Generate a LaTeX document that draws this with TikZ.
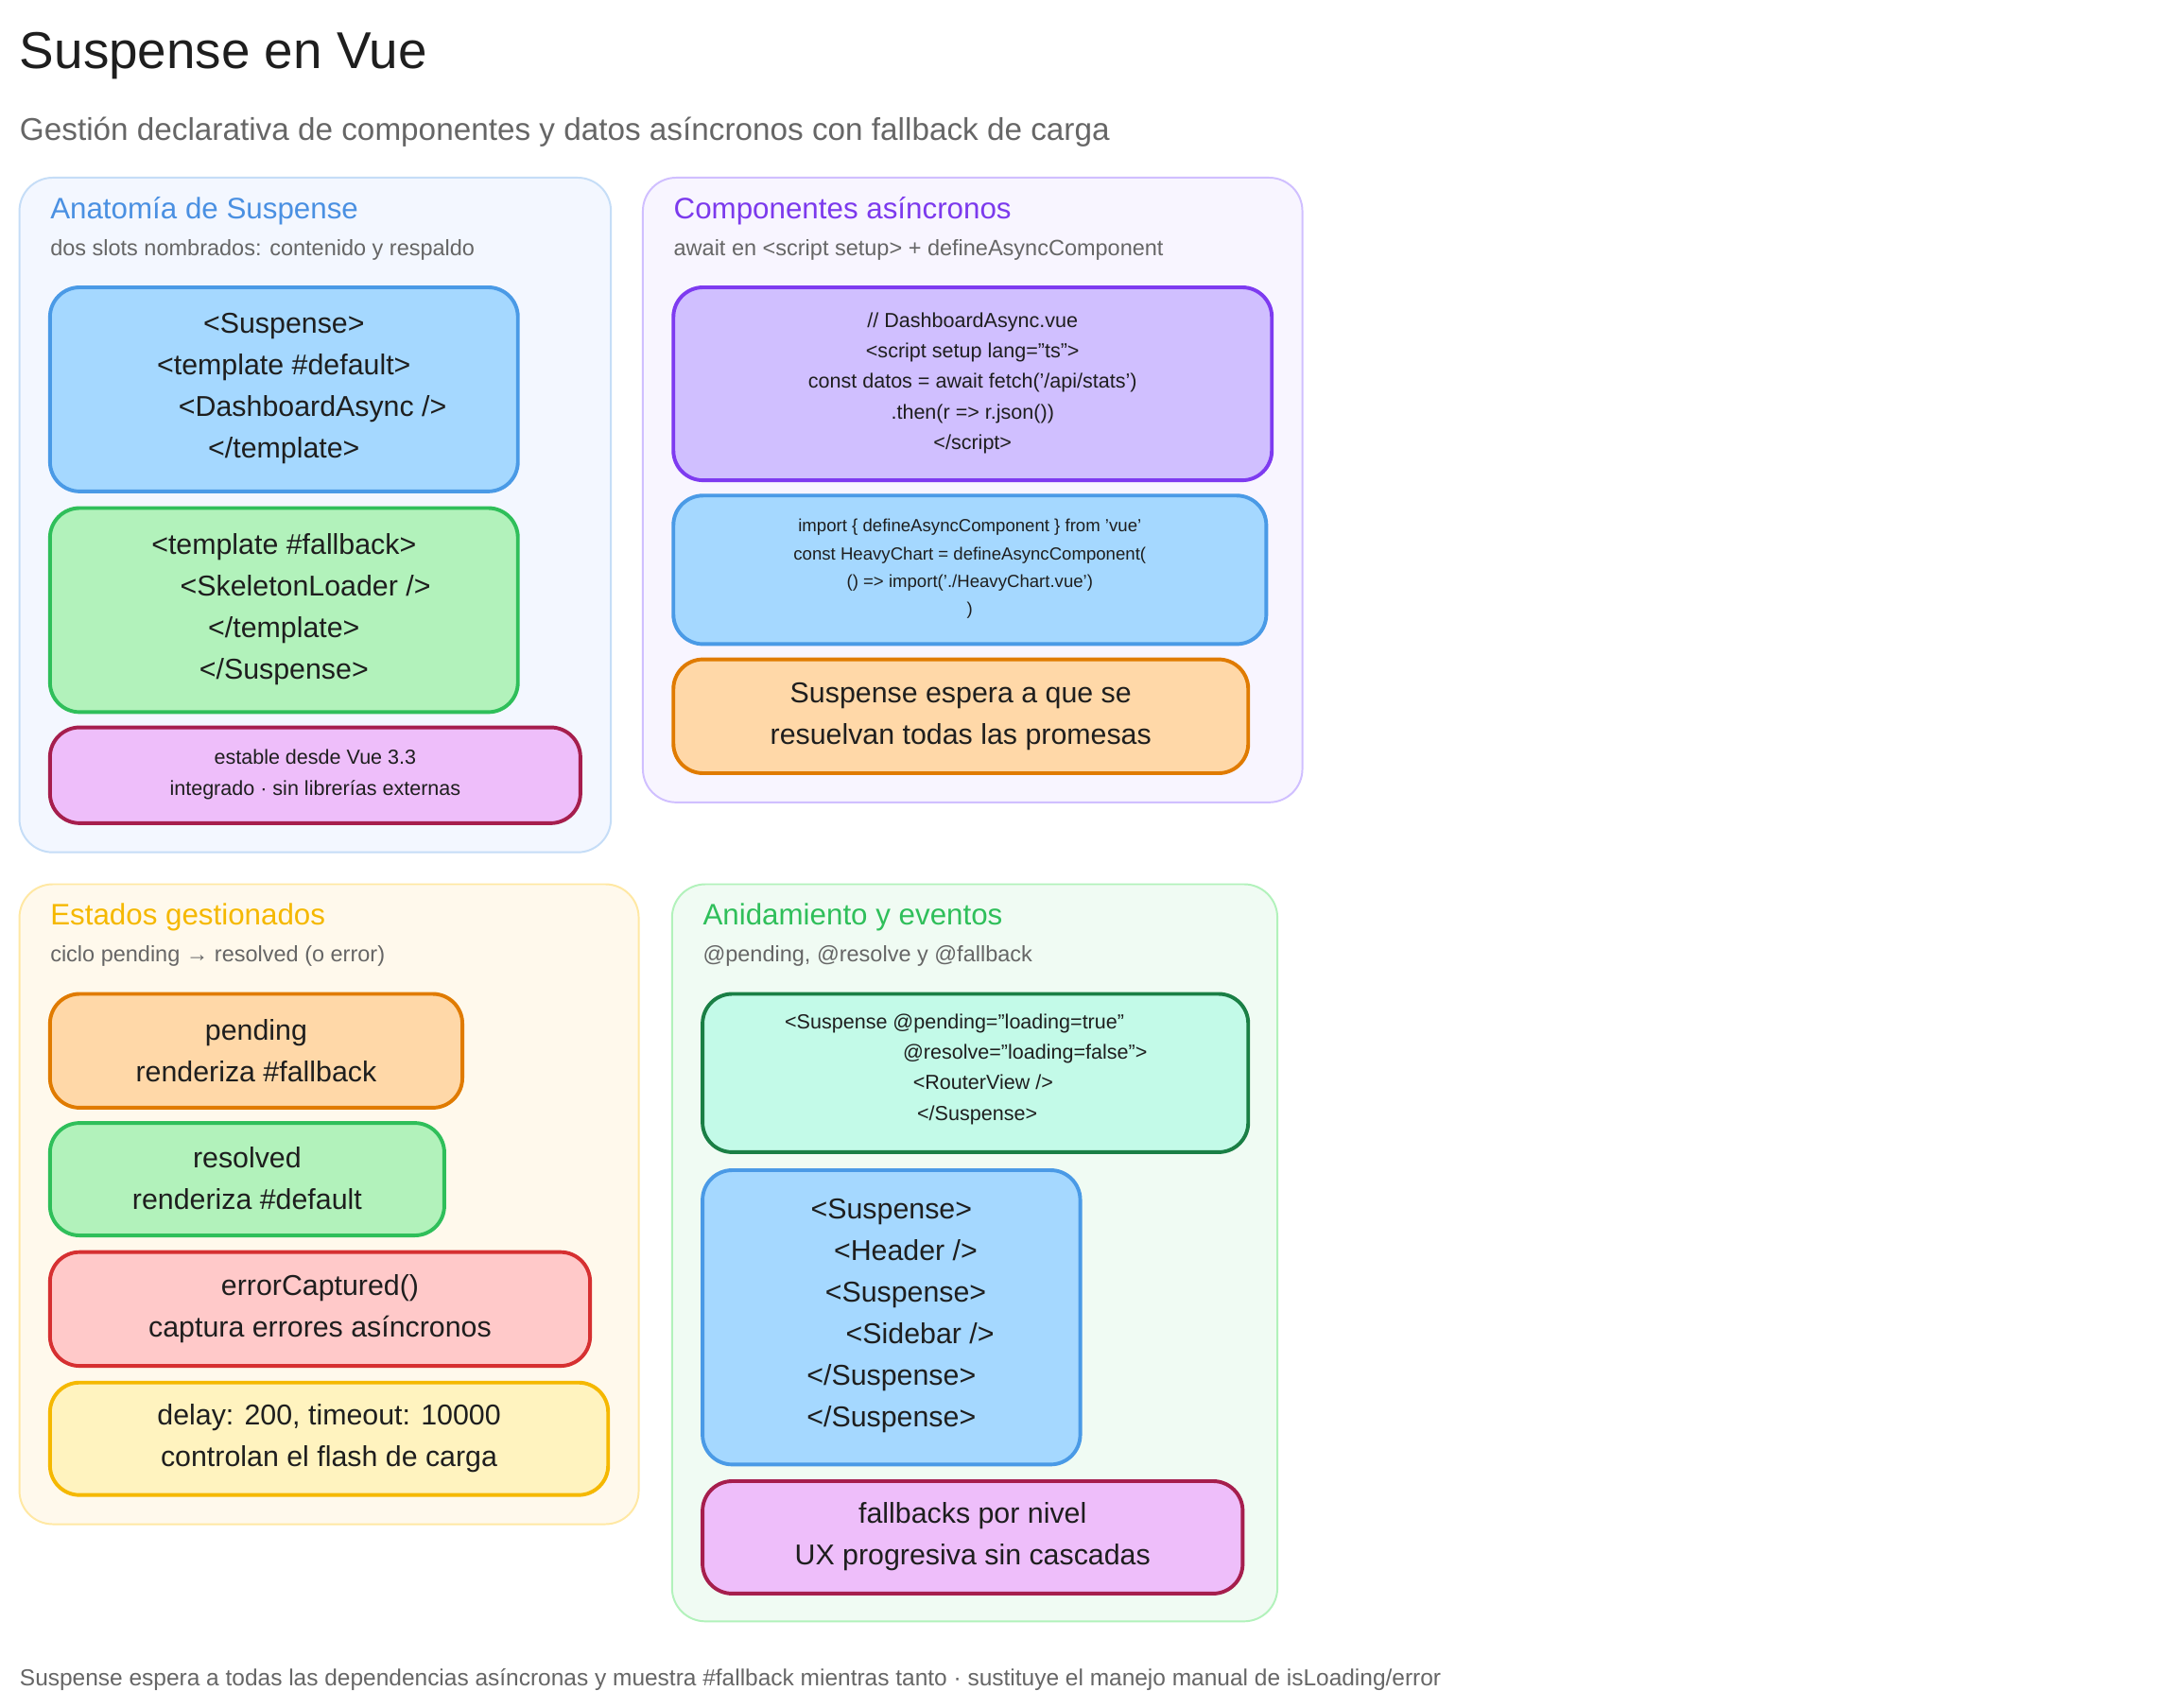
\documentclass[tikz,border=0pt]{standalone}
\usepackage{fontspec}
\setmainfont{Liberation Sans}
\definecolor{ink}{HTML}{1E1E1E}
\definecolor{gr}{HTML}{666666}
\definecolor{bluD}{HTML}{4A9AE6}\definecolor{bluF}{HTML}{A5D8FF}
\definecolor{grnD}{HTML}{2FBF5A}\definecolor{grnF}{HTML}{B2F2BB}
\definecolor{magD}{HTML}{A61E4D}\definecolor{magF}{HTML}{EEBEFA}
\definecolor{purD}{HTML}{7E3BF0}\definecolor{purF}{HTML}{D0BFFF}
\definecolor{orgD}{HTML}{E07B00}\definecolor{orgF}{HTML}{FFD8A8}
\definecolor{redD}{HTML}{D63031}\definecolor{redF}{HTML}{FFC9C9}
\definecolor{yelD}{HTML}{F5B800}\definecolor{yelF}{HTML}{FFF3BF}
\definecolor{tealD}{HTML}{1A7F45}\definecolor{tealF}{HTML}{C3FAE8}
\definecolor{p1D}{HTML}{C5DDF7}\definecolor{p1F}{HTML}{F3F7FF}
\definecolor{p2D}{HTML}{D0BFFF}\definecolor{p2F}{HTML}{F8F5FF}
\definecolor{p3D}{HTML}{FFE8A3}\definecolor{p3F}{HTML}{FFF9EC}
\definecolor{p4D}{HTML}{B2F2BB}\definecolor{p4F}{HTML}{F0FBF3}
\definecolor{t1C}{HTML}{4A90E2}\definecolor{t2C}{HTML}{7C3AED}
\tikzset{
  panel/.style={draw=#1, line width=1pt, rounded corners=18pt},
  box/.style={draw=#1, line width=2pt, rounded corners=16pt},
  txt/.style={text=ink, align=center, inner sep=0pt},
  ttl/.style={anchor=west, inner sep=0pt, font=\fontsize{16}{19}\selectfont},
  sub/.style={anchor=west, inner sep=0pt, text=gr, font=\fontsize{12}{14}\selectfont},
  big/.style={txt, font=\fontsize{15.5}{22.5}\selectfont},
  small/.style={txt, font=\fontsize{11}{16.5}\selectfont},
  tiny/.style={txt, font=\fontsize{9.5}{15}\selectfont},
}
\begin{document}
\begin{tikzpicture}[x=0.75pt,y=-0.75pt]
\useasboundingbox[fill=white] (0,0) rectangle (1560,1230);
\node[anchor=west,inner sep=0pt,text=ink,font=\fontsize{28}{32}\selectfont] (title) at (14,40) {Suspense en Vue};
\node[anchor=west,inner sep=0pt,text=gr,font=\fontsize{17}{20}\selectfont] (subtitle) at (14,95) {Gestión declarativa de componentes y datos asíncronos con fallback de carga};
% panel 1
\filldraw[panel=p1D, fill=p1F] (14,128) rectangle (440,614);
\node[ttl,text=t1C] (t1) at (36,152) {Anatomía de Suspense};
\node[sub] (s1) at (36,180) {dos slots nombrados: contenido y respaldo};
\filldraw[box=bluD, fill=bluF] (36,207) rectangle (373,354);
\node[big] (a1) at (204.5,280) {<Suspense>\\<template \#default>\\\hspace{2em}<DashboardAsync />\\</template>};
\filldraw[box=grnD, fill=grnF] (36,366) rectangle (373,513);
\node[big] (a2) at (204.5,439) {<template \#fallback>\\\hspace{1.5em}<SkeletonLoader />\\</template>\\</Suspense>};
\filldraw[box=magD, fill=magF] (36,524) rectangle (418,593);
\node[small] (a3) at (227,558) {estable desde Vue 3.3\\integrado · sin librerías externas};
% panel 2
\filldraw[panel=p2D, fill=p2F] (463,128) rectangle (938,578);
\node[ttl,text=t2C] (t2) at (485,152) {Componentes asíncronos};
\node[sub] (s2) at (485,180) {await en <script setup> + defineAsyncComponent};
\filldraw[box=purD, fill=purF] (485,207) rectangle (916,346);
\node[small] (b1) at (700.5,276) {// DashboardAsync.vue\\<script setup lang="ts">\\const datos = await fetch('/api/stats')\\.then(r => r.json())\\</script>};
\filldraw[box=bluD, fill=bluF] (485,357) rectangle (912,464);
\node[tiny] (b2) at (698.5,410) {import \{ defineAsyncComponent \} from 'vue'\\const HeavyChart = defineAsyncComponent(\\() => import('./HeavyChart.vue')\\)};
\filldraw[box=orgD, fill=orgF] (485,475) rectangle (899,557);
\node[big] (b3) at (692,516) {Suspense espera a que se\\resuelvan todas las promesas};
% panel 3
\filldraw[panel=p3D, fill=p3F] (14,637) rectangle (460,1098);
\node[ttl,text=yelD] (t3) at (36,661) {Estados gestionados};
\node[sub] (s3) at (36,689) {ciclo pending → resolved (o error)};
\filldraw[box=orgD, fill=orgF] (36,716) rectangle (333,798);
\node[big] (c1) at (184.5,757) {pending\\renderiza \#fallback};
\filldraw[box=grnD, fill=grnF] (36,809) rectangle (320,890);
\node[big] (c2) at (178,849) {resolved\\renderiza \#default};
\filldraw[box=redD, fill=redF] (36,902) rectangle (425,984);
\node[big] (c3) at (230.5,943) {errorCaptured()\\captura errores asíncronos};
\filldraw[box=yelD, fill=yelF] (36,996) rectangle (438,1077);
\node[big] (c4) at (237,1036) {delay: 200, timeout: 10000\\controlan el flash de carga};
% panel 4
\filldraw[panel=p4D, fill=p4F] (484,637) rectangle (920,1168);
\node[ttl,text=grnD] (t4) at (506,661) {Anidamiento y eventos};
\node[sub] (s4) at (506,689) {@pending, @resolve y @fallback};
\filldraw[box=tealD, fill=tealF] (506,716) rectangle (899,830);
\node[small,align=left,anchor=north west] (d1) at (565,730) {<Suspense @pending="loading=true"\\\hspace{5.8em}@resolve="loading=false">\\\hspace{6.3em}<RouterView />\\\hspace{6.5em}</Suspense>};
\filldraw[box=bluD, fill=bluF] (506,843) rectangle (778,1055);
\node[big] (d2) at (642,948) {<Suspense>\\\hspace{1em}<Header />\\\hspace{1em}<Suspense>\\\hspace{2em}<Sidebar />\\</Suspense>\\</Suspense>};
\filldraw[box=magD, fill=magF] (506,1067) rectangle (895,1148);
\node[big] (d3) at (700.5,1107) {fallbacks por nivel\\UX progresiva sin cascadas};
\node[anchor=west,inner sep=0pt,text=gr,font=\fontsize{12.5}{15}\selectfont] (foot) at (14,1210) {Suspense espera a todas las dependencias asíncronas y muestra \#fallback mientras tanto · sustituye el manejo manual de isLoading/error};
\end{tikzpicture}
\end{document}
